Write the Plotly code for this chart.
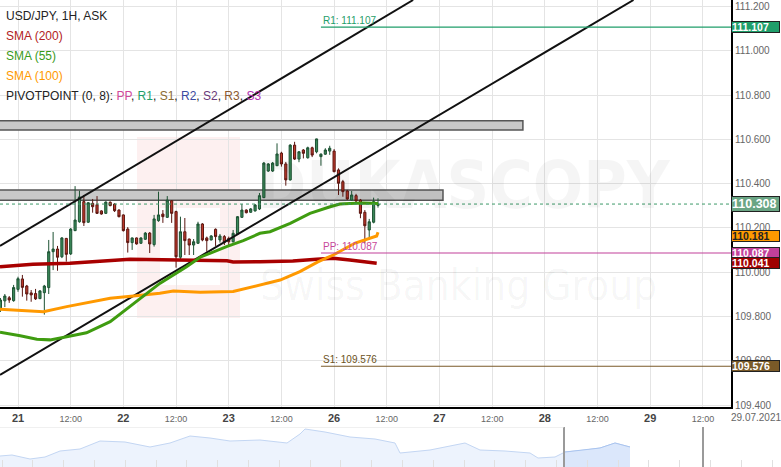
import plotly.graph_objects as go

# hourly candles, x = trading hours since 21.07 00:00 (weekend skipped)
hours = list(range(-4, 83))
opens = [109.834, 109.871, 109.885, 109.872, 109.923, 109.970, 109.938, 109.907, 109.904, 109.881,
         109.908, 109.931, 110.093, 110.105, 110.070, 110.153, 110.083, 110.188, 110.228, 110.319,
         110.226, 110.311, 110.305, 110.277, 110.266, 110.316, 110.308, 110.281, 110.259, 110.195,
         110.134, 110.155, 110.131, 110.149, 110.177, 110.125, 110.233, 110.263, 110.248, 110.323,
         110.274, 110.068, 110.183, 110.150, 110.123, 110.131, 110.218, 110.155, 110.146, 110.194,
         110.146, 110.161, 110.153, 110.138, 110.173, 110.248, 110.281, 110.271, 110.277, 110.286,
         110.337, 110.457, 110.457, 110.481, 110.538, 110.489, 110.417, 110.574, 110.511, 110.552,
         110.517, 110.562, 110.544, 110.522, 110.533, 110.547, 110.547, 110.462, 110.409, 110.367,
         110.326, 110.346, 110.326, 110.271, 110.191, 110.226, 110.302]
highs = [109.884, 109.902, 109.893, 109.943, 109.980, 109.988, 109.943, 109.920, 109.925, 109.920,
         109.943, 110.146, 110.182, 110.119, 110.159, 110.155, 110.200, 110.389, 110.368, 110.349,
         110.317, 110.331, 110.344, 110.280, 110.320, 110.320, 110.312, 110.284, 110.261, 110.204,
         110.157, 110.157, 110.158, 110.182, 110.182, 110.259, 110.364, 110.281, 110.344, 110.326,
         110.278, 110.251, 110.245, 110.152, 110.150, 110.228, 110.222, 110.161, 110.168, 110.198,
         110.173, 110.168, 110.161, 110.191, 110.254, 110.308, 110.284, 110.290, 110.308, 110.358,
         110.498, 110.493, 110.498, 110.582, 110.544, 110.498, 110.578, 110.589, 110.547, 110.556,
         110.567, 110.567, 110.603, 110.537, 110.560, 110.571, 110.556, 110.469, 110.417, 110.372,
         110.367, 110.354, 110.331, 110.281, 110.241, 110.337, 110.334]
lows = [109.821, 109.843, 109.862, 109.867, 109.912, 109.890, 109.872, 109.867, 109.875, 109.880,
        109.809, 109.902, 110.010, 110.007, 110.064, 110.048, 110.078, 110.186, 110.224, 110.209,
        110.223, 110.269, 110.263, 110.260, 110.263, 110.298, 110.272, 110.248, 110.184, 110.089,
        110.101, 110.125, 110.128, 110.146, 110.087, 110.116, 110.228, 110.223, 110.245, 110.223,
        110.021, 110.059, 110.078, 110.078, 110.078, 110.128, 110.140, 110.093, 110.144, 110.119,
        110.134, 110.123, 110.123, 110.134, 110.168, 110.245, 110.266, 110.268, 110.274, 110.281,
        110.335, 110.453, 110.453, 110.480, 110.477, 110.391, 110.414, 110.507, 110.497, 110.514,
        110.513, 110.520, 110.537, 110.481, 110.530, 110.530, 110.452, 110.349, 110.341, 110.326,
        110.324, 110.312, 110.244, 110.131, 110.146, 110.221, 110.292]
closes = [109.875, 109.893, 109.875, 109.931, 109.971, 109.932, 109.902, 109.898, 109.880, 109.916,
          109.938, 110.093, 110.105, 110.068, 110.155, 110.081, 110.195, 110.236, 110.340, 110.224,
          110.314, 110.296, 110.266, 110.263, 110.317, 110.301, 110.278, 110.251, 110.188, 110.134,
          110.155, 110.128, 110.155, 110.177, 110.128, 110.241, 110.259, 110.251, 110.326, 110.266,
          110.070, 110.183, 110.143, 110.123, 110.138, 110.218, 110.146, 110.143, 110.164, 110.161,
          110.164, 110.135, 110.138, 110.176, 110.251, 110.281, 110.269, 110.286, 110.304, 110.346,
          110.493, 110.489, 110.493, 110.534, 110.489, 110.417, 110.574, 110.511, 110.544, 110.537,
          110.562, 110.529, 110.602, 110.533, 110.552, 110.560, 110.454, 110.402, 110.364, 110.331,
          110.349, 110.322, 110.266, 110.210, 110.228, 110.319, 110.308]

sma200_x = [-4.1, 3.4, 11.8, 21, 25.5, 47.6, 49, 55.1, 62.6, 68, 71.8, 75.6, 81.7]
sma200_y = [110.025, 110.036, 110.041, 110.052, 110.059, 110.052, 110.047, 110.048, 110.051, 110.059,
            110.063, 110.056, 110.041]
sma55_x = [-4.1, 0.5, 4.3, 7.3, 11.1, 15.6, 21, 26.3, 32.3, 38.4, 41.5, 47.5, 51.3, 55.1, 57.4, 62,
           66.5, 71.1, 73.3, 75.6, 78.7, 82]
sma55_y = [109.729, 109.714, 109.698, 109.695, 109.709, 109.727, 109.777, 109.860, 109.950, 110.025,
           110.068, 110.116, 110.143, 110.176, 110.183, 110.221, 110.266, 110.296, 110.308, 110.310,
           110.313, 110.310]
sma100_x = [-4.1, 5.8, 11.1, 16.4, 21, 26.3, 32.3, 35.4, 41.5, 49, 55.1, 59.7, 64.2, 68.3, 71.8, 76.8,
            81.7, 82]
sma100_y = [109.833, 109.822, 109.845, 109.867, 109.883, 109.893, 109.905, 109.916, 109.910, 109.913,
            109.943, 109.965, 110.003, 110.047, 110.078, 110.132, 110.164, 110.181]

# channel lines (two points each, extended past the plot)
channel_upper = [(-4.1, 110.119), (90.0, 111.229)]
channel_lower = [(-4.1, 109.537), (140.2, 111.229)]
# supply / demand zones: (x_start, x_end, low, high)
zones = [(-10, 115, 110.642, 110.684), (-10, 96.8, 110.325, 110.371)]

pivot_start = 69
pivots = [("R1", 111.107, "#1f9e6a", "#1f9e6a"), ("PP", 110.087, "#c8489a", "#c2409a"),
          ("S1", 109.576, "#6b5222", "#7a5a28")]
last_price = 110.308
sma100_last, sma200_last = 110.181, 110.041

tick_hours = [0, 12, 24, 36, 48, 60, 72, 84, 96, 108, 120, 132, 144, 156]
day_labels = ["21", "22", "23", "26", "27", "28", "29"]
x_range = [-4.1, 162.4]
y_range = [109.392, 111.229]

# navigator (long-range close, relative units)
nav_x = [0, 12, 30, 45, 60, 80, 100, 125, 150, 170, 190, 210, 230, 260, 287, 300, 305, 325, 350, 375,
         395, 400, 430, 465, 480, 505, 530, 538, 555, 565, 585, 600, 615, 630]
nav_v = [11, 12, 8, 10, 16, 18, 26, 25, 20, 24, 31, 29, 26, 27, 24, 33, 38, 35, 30, 28,
         24, 14, 17, 24, 17, 16, 14, 9, 10, 15, 17, 19, 24, 20]
nav_window = (564, 703)

W, H = 781, 467
PLOT_R = 731 / W
FONT = "Arial, Liberation Sans, sans-serif"
WM_FONT = "DejaVu Sans Condensed, Liberation Sans Narrow, Roboto"

fig = go.Figure()

for (x0, y0), (x1, y1) in (channel_upper, channel_lower):
    fig.add_trace(go.Scatter(x=[x0, x1], y=[y0, y1], mode="lines",
                             line={"color": "#111", "width": 2}, hoverinfo="skip"))

fig.add_trace(go.Scatter(x=sma200_x, y=sma200_y, mode="lines", line={"color": "#a80000", "width": 3.5}))
fig.add_trace(go.Scatter(x=sma100_x, y=sma100_y, mode="lines", line={"color": "#ff9900", "width": 3}))
fig.add_trace(go.Scatter(x=sma55_x, y=sma55_y, mode="lines", line={"color": "#3f9c10", "width": 3}))

fig.add_trace(go.Candlestick(
    x=hours, open=opens, high=highs, low=lows, close=closes,
    increasing={"line": {"color": "#1d5233", "width": 1}, "fillcolor": "#3b8a5a"},
    decreasing={"line": {"color": "#5a1610", "width": 1}, "fillcolor": "#c0392b"},
    whiskerwidth=0))

for name, value, tcolor, lcolor in pivots:
    fig.add_trace(go.Scatter(x=[pivot_start, x_range[1]], y=[value, value], mode="lines",
                             line={"color": lcolor, "width": 1.2}))
    fig.add_annotation(x=pivot_start, y=value, text=f"{name}: {value:.3f}", showarrow=False,
                       xanchor="left", yanchor="bottom", yshift=-1,
                       font={"family": FONT, "size": 10, "color": tcolor})

fig.add_hline(y=last_price, line={"color": "#3d9a68", "width": 1, "dash": "3px,3px"})

for x0, x1, lo, hi in zones:
    fig.add_shape(type="rect", x0=x0, x1=x1, y0=lo, y1=hi, layer="between",
                  fillcolor="#c8c8c8", line={"color": "#555", "width": 1.5})

# right-hand price badges
badges = [(pivots[0][1], "#1f9e6a", "white", 10.5, 10, 0), (last_price, "#6aa584", "white", 12.5, 14, 0),
          (sma100_last, "#ff9900", "#222", 10.5, 10, -4), (pivots[1][1], "#c2409a", "white", 10.5, 10, 0),
          (sma200_last, "#a00000", "white", 10.5, 10, 0), (pivots[2][1], "#7a5a28", "white", 10.5, 10, 0)]
for value, bg, fg, size, hgt, shift in badges:
    fig.add_annotation(xref="paper", x=PLOT_R, y=value, yshift=shift, text=f"<b>{value:.3f}</b>",
                       showarrow=False, xanchor="left", yanchor="middle", bgcolor=bg,
                       bordercolor="#222", borderwidth=1, borderpad=0, width=47, height=hgt,
                       align="left", valign="middle",
                       font={"family": FONT, "size": size, "color": fg})

# legend block
legend = [("USD/JPY, 1H, ASK", "#222"), ("SMA (200)", "#b22222"), ("SMA (55)", "#3a9a1a"),
          ("SMA (100)", "#ff9900")]
for i, (txt, col) in enumerate(legend):
    fig.add_annotation(xref="paper", yref="paper", x=4 / W, y=1 - (16 + 20 * i) / H, text=txt,
                       showarrow=False, xanchor="left", yanchor="middle",
                       font={"family": FONT, "size": 12, "color": col})
piv_txt = ("PIVOTPOINT (0, 8): <span style='color:#d0489a'>PP</span>, "
           "<span style='color:#1f9e6a'>R1</span>, <span style='color:#8a6a30'>S1</span>, "
           "<span style='color:#3a4aa0'>R2</span>, <span style='color:#6a3a7a'>S2</span>, "
           "<span style='color:#8a5a30'>R3</span>, <span style='color:#b030b0'>S3</span>")
fig.add_annotation(xref="paper", yref="paper", x=4 / W, y=1 - 96 / H, text=piv_txt, showarrow=False,
                   xanchor="left", yanchor="middle", font={"family": FONT, "size": 12, "color": "#222"})

# watermark
fig.add_shape(type="rect", xref="paper", yref="paper", x0=137 / W, x1=240 / W, y0=1 - 318 / H,
              y1=1 - 137 / H, layer="below", fillcolor="#fdf0f0", line={"width": 0})
fig.add_shape(type="rect", xref="paper", yref="paper", x0=160 / W, x1=220 / W, y0=1 - 285 / H,
              y1=1 - 208 / H, layer="below", fillcolor="white", line={"width": 0})
fig.add_annotation(xref="paper", yref="paper", x=255 / W, y=1 - 185 / H, text="<b>DUKASCOPY</b>",
                   showarrow=False, xanchor="left", yanchor="middle",
                   font={"family": WM_FONT, "size": 66, "color": "rgba(0,0,0,0.04)"})
fig.add_annotation(xref="paper", yref="paper", x=258 / W, y=1 - 285 / H, text="Swiss Banking Group",
                   showarrow=False, xanchor="left", yanchor="middle",
                   font={"family": WM_FONT, "size": 42, "color": "rgba(0,0,0,0.04)"})

# date stamp at the right end of the time axis
fig.add_annotation(xref="paper", yref="paper", x=756 / W, y=1 - 417 / H, text="29.07.2021",
                   showarrow=False, xanchor="center", yanchor="middle",
                   font={"family": FONT, "size": 10, "color": "#666"})

# navigator
fig.add_trace(go.Scatter(x=nav_x, y=nav_v, xaxis="x2", yaxis="y2", mode="lines", fill="tozeroy",
                         fillcolor="#edf3fd", line={"color": "#c3d6f3", "width": 1}))
win_x = [x for x in nav_x if x >= nav_window[0]]
win_v = [v for x, v in zip(nav_x, nav_v) if x >= nav_window[0]]
fig.add_trace(go.Scatter(x=win_x, y=win_v, xaxis="x2", yaxis="y2", mode="lines", fill="tozeroy",
                         fillcolor="#dbe7fb", line={"color": "#a9c4ef", "width": 1}))
for xw in nav_window:
    fig.add_shape(type="line", xref="x2", yref="y2", x0=xw, x1=xw, y0=0, y1=40,
                  line={"color": "#9a9a9a", "width": 2})
fig.add_shape(type="line", xref="x2", yref="y2", x0=0, x1=nav_window[0], y0=40, y1=40,
              line={"color": "#e2e2e2", "width": 1})

ticktext = []
for i, _ in enumerate(tick_hours):
    if i % 2 == 0:
        ticktext.append(f"<b>{day_labels[i // 2]}</b>")
    else:
        ticktext.append("<span style='font-size:9px;color:#666'>12:00</span>")

fig.update_layout(
    width=W, height=H, margin={"l": 0, "r": 0, "t": 0, "b": 0},
    plot_bgcolor="white", paper_bgcolor="white", showlegend=False,
    font={"family": FONT},
    xaxis={"domain": [0, PLOT_R], "range": x_range, "tickvals": tick_hours, "ticktext": ticktext,
           "showgrid": True, "gridcolor": "#e4e4e4", "showline": True, "linecolor": "#000",
           "linewidth": 2, "ticks": "", "tickfont": {"size": 11, "color": "#444"},
           "rangeslider": {"visible": False}, "zeroline": False, "anchor": "y", "automargin": False},
    yaxis={"domain": [1 - 407 / H, 1], "range": y_range, "side": "right", "dtick": 0.2, "tick0": 109.4,
           "tickformat": ".3f", "showgrid": True, "gridcolor": "#e4e4e4", "showline": True,
           "linecolor": "#000", "linewidth": 2, "ticks": "", "zeroline": False,
           "tickfont": {"size": 10, "color": "#666"}, "anchor": "x", "automargin": False},
    xaxis2={"domain": [0, 1], "range": [0, W], "anchor": "y2", "showgrid": False, "showticklabels": False,
            "ticks": "inside", "ticklen": 7, "tickcolor": "#e0e0e0", "tick0": 2, "dtick": 30.8,
            "zeroline": False, "automargin": False},
    yaxis2={"domain": [0, 40 / H], "range": [0, 40], "showgrid": False, "showticklabels": False,
            "zeroline": False, "automargin": False},
)

# the page body has a default 8px margin; remove it so the figure sits at the window corner
fig.write_html("out.html", config={"displayModeBar": False},
               post_script="document.body.style.margin='0px';")
